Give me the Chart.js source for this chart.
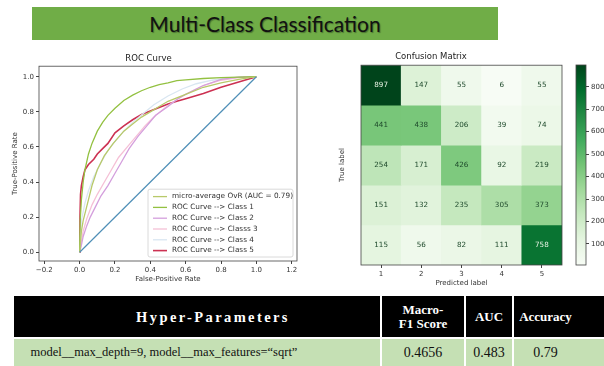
<!DOCTYPE html>
<html>
<head>
<meta charset="utf-8">
<script src="https://cdn.jsdelivr.net/npm/chart.js@4.4.1/dist/chart.umd.min.js"></script>
<style>
  body { margin: 0; width: 604px; height: 366px; overflow: hidden; background: #fff; position: relative; }
  #banner { position: absolute; left: 32px; top: 7px; width: 466px; height: 33px; background: #70ad47;
            font-family: Lato, "Open Sans", sans-serif; font-size: 21px; color: #111; text-align: center;
            line-height: 33px; text-shadow: 1px 1px 1px rgba(0,0,0,0.35); }
  .box { position: absolute; }
  #metrics { position: absolute; left: 14px; top: 296px; width: 600px; border-collapse: collapse; table-layout: fixed;
             font-family: "Liberation Serif", "Times New Roman", serif; }
  #metrics th { background: #000; color: #fff; font-weight: bold; font-size: 13px; height: 41px; padding: 0;
                border-right: 2px solid #fff; border-bottom: 2px solid #fff; line-height: 14px; }
  #metrics td { background: #c5e0b4; color: #111; font-size: 14px; height: 27px; padding: 0; text-align: center;
                border-right: 2px solid #fff; }
</style>
</head>
<body>
<div id="banner">Multi-Class Classification</div>
<div class="box" style="left:0;top:50px;"><canvas id="roc" width="300" height="240"></canvas></div>
<div class="box" style="left:300px;top:50px;"><canvas id="cm" width="270" height="240"></canvas></div>
<div class="box" style="left:566px;top:50px;"><canvas id="cbar" width="60" height="240"></canvas></div>
<table id="metrics">
  <colgroup><col style="width:367px"><col style="width:84px"><col style="width:48px"><col style="width:101px"></colgroup>
  <tr>
    <th style="padding-left:32px;font-size:14.5px;letter-spacing:2.4px;">Hyper-Parameters</th>
    <th>Macro-<br>F1 Score</th>
    <th>AUC</th>
    <th style="padding-right:36px;">Accuracy</th>
  </tr>
  <tr>
    <td style="padding-right:66px;font-size:12.5px;">model__max_depth=9, model__max_features=“sqrt”</td>
    <td>0.4656</td>
    <td>0.483</td>
    <td style="padding-right:36px;">0.79</td>
  </tr>
</table>
<script>
// ROC curves (false positive rate / true positive rate)
const microFpr = [0, 0.005, 0.01, 0.02, 0.035, 0.05, 0.07, 0.1, 0.14, 0.19, 0.25, 0.3, 0.35, 0.4, 0.45, 0.5, 0.6, 0.7, 0.8, 0.9, 1.0];
const microTpr = [0, 0.06, 0.12, 0.18, 0.24, 0.3, 0.38, 0.47, 0.55, 0.62, 0.69, 0.73, 0.77, 0.8, 0.83, 0.86, 0.9, 0.94, 0.965, 0.985, 1.0];
const class1Fpr = [0, 0.003, 0.01, 0.02, 0.03, 0.05, 0.07, 0.1, 0.13, 0.16, 0.2, 0.25, 0.3, 0.35, 0.4, 0.45, 0.5, 0.55, 0.6, 0.7, 0.8, 0.9, 1.0];
const class1Tpr = [0, 0.18, 0.3, 0.4, 0.47, 0.56, 0.62, 0.69, 0.74, 0.78, 0.82, 0.865, 0.895, 0.92, 0.94, 0.955, 0.965, 0.978, 0.982, 0.99, 0.995, 0.998, 1.0];
const class2Fpr = [0, 0.01, 0.02, 0.04, 0.06, 0.09, 0.12, 0.16, 0.2, 0.24, 0.28, 0.33, 0.38, 0.43, 0.5, 0.55, 0.6, 0.7, 0.8, 0.9, 1.0];
const class2Tpr = [0, 0.04, 0.09, 0.15, 0.2, 0.26, 0.32, 0.38, 0.45, 0.52, 0.59, 0.66, 0.72, 0.78, 0.83, 0.87, 0.9, 0.95, 0.985, 0.998, 1.0];
const class3Fpr = [0, 0.01, 0.02, 0.04, 0.07, 0.1, 0.14, 0.18, 0.22, 0.27, 0.32, 0.37, 0.42, 0.48, 0.55, 0.62, 0.7, 0.8, 0.9, 1.0];
const class3Tpr = [0, 0.06, 0.12, 0.19, 0.27, 0.33, 0.4, 0.47, 0.54, 0.6, 0.66, 0.72, 0.77, 0.82, 0.87, 0.91, 0.95, 0.98, 0.995, 1.0];
const class4Fpr = [0, 0.005, 0.01, 0.03, 0.05, 0.08, 0.12, 0.16, 0.2, 0.25, 0.3, 0.36, 0.42, 0.5, 0.58, 0.66, 0.75, 0.85, 1.0];
const class4Tpr = [0, 0.1, 0.18, 0.28, 0.35, 0.43, 0.51, 0.58, 0.63, 0.69, 0.74, 0.79, 0.84, 0.89, 0.93, 0.96, 0.98, 0.995, 1.0];
const class5Fpr = [0, 0.002, 0.005, 0.01, 0.02, 0.03, 0.05, 0.08, 0.1, 0.13, 0.16, 0.2, 0.25, 0.3, 0.35, 0.4, 0.45, 0.5, 0.55, 0.6, 0.7, 0.8, 0.9, 1.0];
const class5Tpr = [0, 0.2, 0.33, 0.38, 0.43, 0.47, 0.5, 0.53, 0.56, 0.59, 0.62, 0.68, 0.72, 0.755, 0.785, 0.805, 0.825, 0.845, 0.86, 0.875, 0.905, 0.94, 0.97, 1.0];
const chanceFpr = [0, 1];
const chanceTpr = [0, 1];
const rocLabels = ['micro-average OvR (AUC = 0.79)', 'ROC Curve --> Class 1', 'ROC Curve --> Class 2',
                   'ROC Curve --> Classs 3', 'ROC Curve --> Class 4', 'ROC Curve --> Class 5'];
const rocXTicks = [-0.2, 0, 0.2, 0.4, 0.6, 0.8, 1.0, 1.2];

// confusion matrix, rows = true label, columns = predicted label
const predLabels = ['1', '2', '3', '4', '5'];
const trueLabels = ['1', '2', '3', '4', '5'];
const cmRow1 = [897, 147, 55, 6, 55];
const cmRow2 = [441, 438, 206, 39, 74];
const cmRow3 = [254, 171, 426, 92, 219];
const cmRow4 = [151, 132, 235, 305, 373];
const cmRow5 = [115, 56, 82, 111, 758];
const cbTicks = [100, 200, 300, 400, 500, 600, 700, 800];

const tickFont = { family: 'DejaVu Sans', size: 7 };
const labelFont = { family: 'DejaVu Sans', size: 7.3 };
const titleFont = { family: 'DejaVu Sans', size: 8.5, weight: 'normal' };
const axisColor = '#444';

// matplotlib "Greens"
const greensStops = ['#f7fcf5', '#e5f5e0', '#c7e9c0', '#a1d99b', '#74c476', '#41ab5d', '#238b45', '#006d2c', '#00441b'];
function hexRgb(h) {
    return [parseInt(h.substr(1, 2), 16), parseInt(h.substr(3, 2), 16), parseInt(h.substr(5, 2), 16)];
}
function greens(t) {
    t = Math.max(0, Math.min(1, t));
    let pos = t * (greensStops.length - 1);
    let i = Math.min(Math.floor(pos), greensStops.length - 2);
    let f = pos - i;
    let a = hexRgb(greensStops[i]), b = hexRgb(greensStops[i + 1]);
    let c = a.map((v, k) => Math.round(v + (b[k] - v) * f));
    return 'rgb(' + c.join(',') + ')';
}

const framePlugin = {
    id: 'frame',
    afterDatasetsDraw(chart) {
        const a = chart.chartArea, ctx = chart.ctx;
        ctx.save();
        ctx.strokeStyle = axisColor;
        ctx.lineWidth = 0.8;
        ctx.strokeRect(a.left, a.top, a.right - a.left, a.bottom - a.top);
        ctx.restore();
    }
};

// legend drawn inside the plot, lower right like matplotlib
const rocLegendPlugin = {
    id: 'rocLegend',
    afterDraw(chart) {
        const ctx = chart.ctx, a = chart.chartArea;
        const items = chart.data.datasets.filter(d => d.label);
        const rowH = 10.8, w = 145, h = items.length * rowH + 3;
        const x0 = a.right - w - 4, y0 = a.bottom - h - 4;
        ctx.save();
        ctx.fillStyle = 'rgba(255,255,255,0.85)';
        ctx.strokeStyle = '#d0d0d0';
        ctx.lineWidth = 0.8;
        ctx.beginPath();
        ctx.roundRect(x0, y0, w, h, 2);
        ctx.fill();
        ctx.stroke();
        ctx.font = labelFont.size + 'px ' + labelFont.family;
        ctx.textBaseline = 'middle';
        items.forEach(function(d, i) {
            let y = y0 + 2 + rowH * i + rowH / 2;
            ctx.strokeStyle = d.borderColor;
            ctx.lineWidth = d.borderWidth;
            ctx.beginPath();
            ctx.moveTo(x0 + 5, y);
            ctx.lineTo(x0 + 19, y);
            ctx.stroke();
            ctx.fillStyle = '#333';
            ctx.fillText(d.label, x0 + 24, y);
        });
        ctx.restore();
    }
};

function rocSeries(fpr, tpr) {
    return fpr.map((x, i) => ({ x: x, y: tpr[i] }));
}

function fmtTick(v) {
    let s = v.toFixed(1);
    return v < 0 ? '\u2212' + s.substr(1) : s;
}

function createRoc() {
    const colors = ['#b8c96a', '#93c141', '#d49fdd', '#f5c0d6', '#d9e6f1', '#cc3152'];
    const series = [[microFpr, microTpr], [class1Fpr, class1Tpr], [class2Fpr, class2Tpr],
                    [class3Fpr, class3Tpr], [class4Fpr, class4Tpr], [class5Fpr, class5Tpr]];
    let datasets = [{
        data: rocSeries(chanceFpr, chanceTpr), borderColor: '#4f8fb7', borderWidth: 1.2
    }];
    series.forEach(function(s, i) {
        datasets.push({
            label: rocLabels[i], data: rocSeries(s[0], s[1]),
            borderColor: colors[i], borderWidth: i === 5 ? 1.6 : 1.3
        });
    });
    new Chart(document.getElementById('roc'), {
        type: 'line',
        data: { datasets: datasets },
        options: {
            responsive: false, animation: false,
            elements: { point: { radius: 0 }, line: { tension: 0 } },
            layout: { padding: { top: 0, right: 3, left: 0, bottom: 0 } },
            plugins: {
                legend: { display: false }, tooltip: { enabled: false },
                title: { display: true, text: 'ROC Curve', font: titleFont, color: '#222', padding: { top: 4, bottom: 2 } }
            },
            scales: {
                x: {
                    type: 'linear', min: -0.23, max: 1.23,
                    afterBuildTicks: s => { s.ticks = rocXTicks.map(v => ({ value: v })); },
                    ticks: { callback: fmtTick, font: tickFont, color: '#333', padding: 2, maxRotation: 0 },
                    grid: { drawOnChartArea: false, tickLength: 3, color: axisColor },
                    border: { display: false },
                    title: { display: true, text: 'False-Positive Rate', font: tickFont, color: '#333', padding: { top: 0, bottom: 7 } },
                    afterFit: s => { s.height = 29; }
                },
                y: {
                    type: 'linear', min: -0.05, max: 1.06,
                    ticks: { stepSize: 0.2, includeBounds: false, callback: fmtTick, font: tickFont, color: '#333', padding: 2 },
                    grid: { drawOnChartArea: false, tickLength: 3, color: axisColor },
                    border: { display: false },
                    title: { display: true, text: 'True-Positive Rate', font: tickFont, color: '#333', padding: { top: 11, bottom: 0 } },
                    afterFit: s => { s.width = 39; }
                }
            }
        },
        plugins: [framePlugin, rocLegendPlugin]
    });
}

function createMatrix() {
    const rows = [cmRow1, cmRow2, cmRow3, cmRow4, cmRow5];
    const all = rows.flat();
    const vmin = Math.min(...all), vmax = Math.max(...all);
    const thresh = (vmin + vmax) / 2;

    let datasets = rows.map(function(row, r) {
        return {
            label: trueLabels[r],
            data: row.map(() => [r + 0.5, r + 1.5]),
            counts: row,
            backgroundColor: row.map(v => greens((v - vmin) / (vmax - vmin))),
            borderWidth: 0, grouped: false, barPercentage: 1, categoryPercentage: 1
        };
    });

    const cellText = {
        id: 'cellText',
        afterDatasetsDraw(chart) {
            const ctx = chart.ctx;
            ctx.save();
            ctx.font = '7.2px DejaVu Sans';
            ctx.textAlign = 'center';
            ctx.textBaseline = 'middle';
            chart.data.datasets.forEach(function(ds, r) {
                chart.getDatasetMeta(r).data.forEach(function(bar, c) {
                    let v = ds.counts[c];
                    ctx.fillStyle = v < thresh ? '#1f4a2c' : '#e8f2e4';
                    ctx.fillText(String(v), bar.x, (bar.y + bar.base) / 2);
                });
            });
            ctx.restore();
        }
    };

    new Chart(document.getElementById('cm'), {
        type: 'bar',
        data: { labels: predLabels, datasets: datasets },
        options: {
            responsive: false, animation: false,
            layout: { padding: { top: 0, right: 8, left: 0, bottom: 0 } },
            plugins: {
                legend: { display: false }, tooltip: { enabled: false },
                title: { display: true, text: 'Confusion Matrix', font: titleFont, color: '#222', padding: { top: 2, bottom: 3 } }
            },
            scales: {
                x: {
                    ticks: { font: tickFont, color: '#333', padding: 2, maxRotation: 0 },
                    grid: { offset: false, drawOnChartArea: false, tickLength: 3, color: axisColor },
                    border: { display: false },
                    title: { display: true, text: 'Predicted label', font: tickFont, color: '#333', padding: { top: 0, bottom: 3 } },
                    afterFit: s => { s.height = 25; }
                },
                y: {
                    type: 'linear', min: 0.5, max: 5.5, reverse: true,
                    ticks: { stepSize: 1, includeBounds: false, font: tickFont, color: '#333', padding: 2,
                             callback: v => trueLabels[v - 1] },
                    grid: { drawOnChartArea: false, tickLength: 3, color: axisColor },
                    border: { display: false },
                    title: { display: true, text: 'True label', font: tickFont, color: '#333', padding: { top: 38, bottom: 0 } },
                    afterFit: s => { s.width = 61; }
                }
            }
        },
        plugins: [framePlugin, cellText]
    });

    // colour bar
    new Chart(document.getElementById('cbar'), {
        type: 'bar',
        data: {
            labels: [''],
            datasets: [{
                data: [[vmin, vmax]],
                barPercentage: 1, categoryPercentage: 1, borderWidth: 0,
                backgroundColor: function(context) {
                    const a = context.chart.chartArea;
                    if (!a) return greensStops[4];
                    let g = context.chart.ctx.createLinearGradient(0, a.bottom, 0, a.top);
                    greensStops.forEach((c, i) => g.addColorStop(i / (greensStops.length - 1), c));
                    return g;
                }
            }]
        },
        options: {
            responsive: false, animation: false,
            layout: { padding: { top: 15, right: 0, left: 10, bottom: 25 } },
            plugins: { legend: { display: false }, tooltip: { enabled: false } },
            scales: {
                x: { display: false },
                y: {
                    position: 'right', min: vmin, max: vmax,
                    afterBuildTicks: s => { s.ticks = cbTicks.map(v => ({ value: v })); },
                    ticks: { font: tickFont, color: '#333', padding: 2 },
                    grid: { drawOnChartArea: false, tickLength: 3, color: axisColor },
                    border: { display: false },
                    afterFit: s => { s.width = 40; }
                }
            }
        },
        plugins: [framePlugin]
    });
}

createRoc();
createMatrix();
</script>
</body>
</html>
